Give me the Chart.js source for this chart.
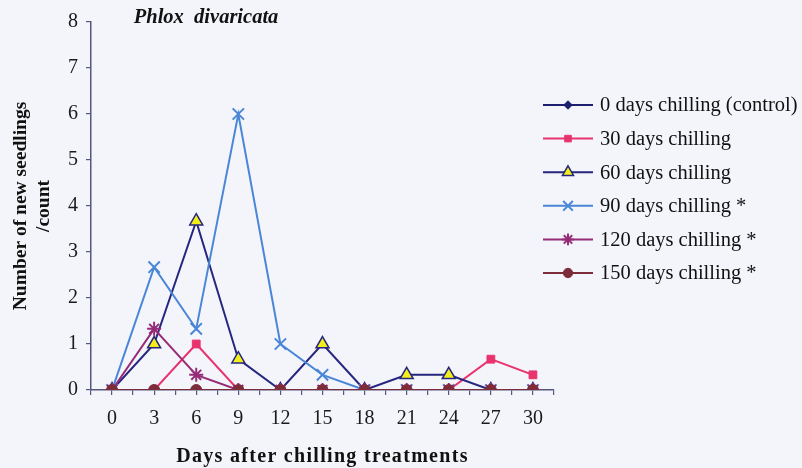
<!DOCTYPE html>
<html>
<head>
<meta charset="utf-8">
<script src="https://cdn.jsdelivr.net/npm/chart.js@4"></script>
<style>
  html, body { margin: 0; padding: 0; background: #f3f5fa; }
  #chart-seedlings { display: block; }
</style>
</head>
<body>
<canvas id="chart-seedlings" width="802" height="468"></canvas>
<script>
// DADOS //
const days = [0, 3, 6, 9, 12, 15, 18, 21, 24, 27, 30]
const yTicks = [0, 1, 2, 3, 4, 5, 6, 7, 8]
const seriesNames = [
    '0 days chilling (control)',
    '30 days chilling',
    '60 days chilling',
    '90 days chilling *',
    '120 days chilling *',
    '150 days chilling *'
]
const chill0 = [0, 0, 0, 0, 0, 0, 0, 0, 0, 0, 0]
const chill30 = [0, 0, 1, 0, 0, 0, 0, 0, 0, 0.67, 0.33]
const chill60 = [0, 1, 3.67, 0.67, 0, 1, 0, 0.33, 0.33, 0, 0]
const chill90 = [0, 2.67, 1.33, 6, 1, 0.33, 0, 0, 0, 0, 0]
const chill120 = [0, 1.33, 0.33, 0, 0, 0, 0, 0, 0, 0, 0]
const chill150 = [0, 0, 0, 0, 0, 0, 0, 0, 0, 0, 0]

const axisColor = '#55577e'
const serif = "'Liberation Serif', 'Times New Roman', serif"

// ESTILOS DAS SÉRIES //
const styles = [
    { line: '#1e1e6e', fill: '#1e1e6e', point: 'rectRot', radius: 5, bw: 1 },
    { line: '#e8336e', fill: '#e8336e', point: 'rect', radius: 5.5, bw: 1 },
    { line: '#26267f', fill: '#f2ee1c', point: 'triangle', radius: 7.5, bw: 1.5 },
    { line: '#4a86d8', fill: '#4a86d8', point: 'crossRot', radius: 8, bw: 2 },
    { line: '#962c78', fill: '#962c78', point: 'star', radius: 7, bw: 2 },
    { line: '#7d2c3a', fill: '#7d2c3a', point: 'circle', radius: 5.5, bw: 1 }
]
const seriesValues = [chill0, chill30, chill60, chill90, chill120, chill150]

const datasets = seriesValues.map((values, i) => ({
    label: seriesNames[i],
    data: values.map((v, j) => ({ x: days[j], y: v })),
    borderColor: styles[i].line,
    backgroundColor: styles[i].fill,
    borderWidth: 2,
    pointStyle: styles[i].point,
    pointRadius: styles[i].radius,
    pointBorderColor: styles[i].point === 'triangle' ? styles[i].line : styles[i].fill,
    pointBorderWidth: styles[i].bw,
    pointBackgroundColor: styles[i].fill,
    order: seriesValues.length - 1 - i,
    tension: 0
}))

// TÍTULOS (ITÁLICO EM CIMA, EIXO X EMBAIXO) //
const titlePlugin = {
    id: 'titlePlugin',
    afterDraw(chart) {
        const ctx = chart.ctx
        const area = chart.chartArea
        ctx.save()
        ctx.fillStyle = '#111'
        ctx.textAlign = 'center'
        ctx.textBaseline = 'middle'
        ctx.font = 'italic bold 20.5px ' + serif
        ctx.fillText('Phlox  divaricata', chart.scales.x.getPixelForValue(6.7), 18)
        ctx.font = 'bold 20px ' + serif
        ctx.letterSpacing = '1.3px'
        ctx.fillText('Days after chilling treatments', (area.left + area.right) / 2, 457)
        ctx.restore()
    }
}

// LEGENDA COM LINHA + MARCADOR //
const legendPlugin = {
    id: 'legendPlugin',
    afterDraw(chart) {
        const ctx = chart.ctx
        ctx.save()
        chart.data.datasets.forEach((ds, i) => {
            const y = 105 + i * 33.6
            const st = styles[i]
            ctx.strokeStyle = st.line
            ctx.lineWidth = 2
            ctx.beginPath()
            ctx.moveTo(543, y)
            ctx.lineTo(593, y)
            ctx.stroke()
            ctx.fillStyle = st.fill
            ctx.strokeStyle = st.point === 'triangle' ? st.line : st.fill
            ctx.lineWidth = st.bw
            Chart.helpers.drawPoint(ctx, { pointStyle: st.point, radius: st.radius * 0.85, borderWidth: st.bw, rotation: 0 }, 568, y)
            ctx.fillStyle = '#111'
            ctx.font = '20.5px ' + serif
            ctx.textAlign = 'left'
            ctx.textBaseline = 'middle'
            ctx.fillText(ds.label, 600, y + 1)
        })
        ctx.restore()
    }
}

new Chart(document.getElementById('chart-seedlings'), {
    type: 'line',
    data: { datasets: datasets },
    options: {
        responsive: false,
        animation: false,
        layout: { padding: { top: 22, right: 248, left: 0, bottom: 0 } },
        scales: {
            x: {
                type: 'linear',
                min: -1.5,
                max: 31.5,
                afterBuildTicks: scale => {
                    const ticks = []
                    for (let v = -1.5; v <= 31.5; v += 1.5) ticks.push({ value: v })
                    scale.ticks = ticks
                },
                afterFit: scale => { scale.height = 78 },
                grid: { display: true, drawOnChartArea: false, tickLength: 5, color: axisColor, lineWidth: 1.2 },
                border: { display: true, color: axisColor, width: 1.5 },
                ticks: {
                    autoSkip: false,
                    maxRotation: 0,
                    padding: 12,
                    color: '#1a1a1a',
                    font: { family: serif, size: 20 },
                    callback: v => (v >= 0 && v % 3 === 0) ? String(v) : ''
                },
                title: { display: false }
            },
            y: {
                min: 0,
                max: 8,
                afterBuildTicks: scale => { scale.ticks = yTicks.map(v => ({ value: v })) },
                afterFit: scale => { scale.width = 91 },
                grid: { display: true, drawOnChartArea: false, tickLength: 5, color: axisColor, lineWidth: 1.2 },
                border: { display: true, color: axisColor, width: 1.5 },
                ticks: {
                    padding: 8,
                    color: '#1a1a1a',
                    font: { family: serif, size: 20 }
                },
                title: {
                    display: true,
                    text: ['Number of new seedlings', '/count'],
                    color: '#111',
                    font: { family: serif, size: 19.5, weight: 'bold' },
                    padding: { top: 9, bottom: 0 }
                }
            }
        },
        plugins: {
            legend: { display: false },
            tooltip: { enabled: false }
        }
    },
    plugins: [titlePlugin, legendPlugin]
})
</script>
</body>
</html>
